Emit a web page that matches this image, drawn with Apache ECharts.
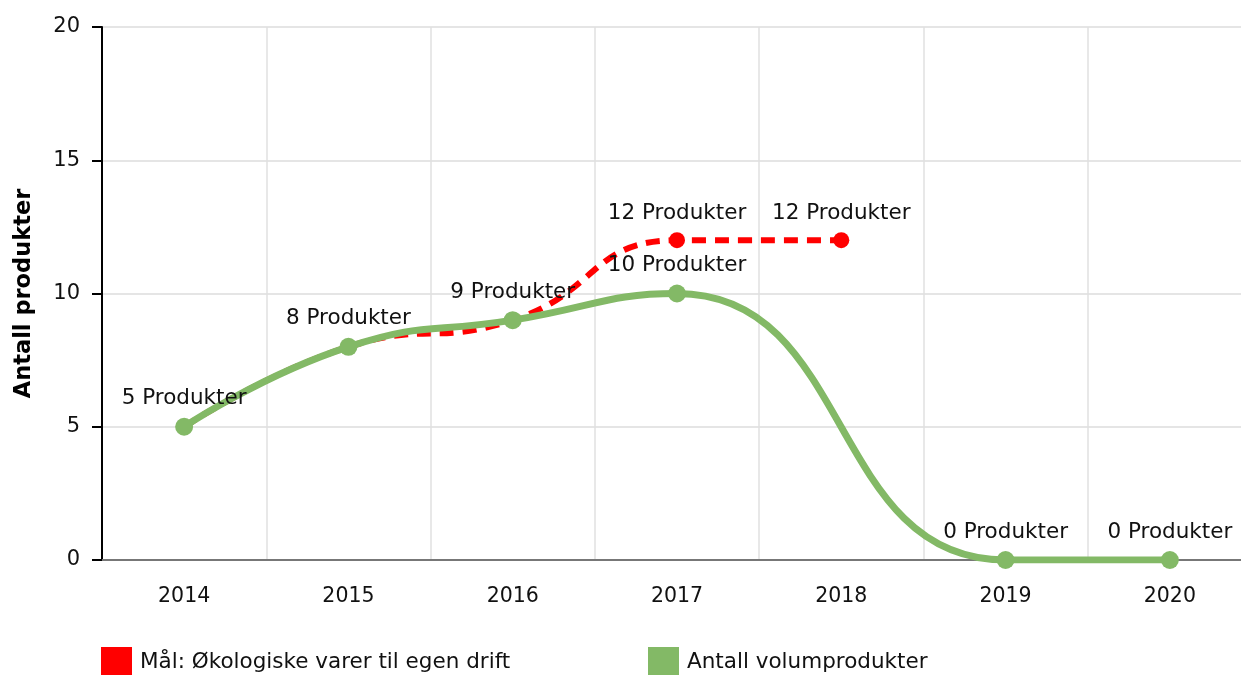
<!DOCTYPE html>
<html><head><meta charset="utf-8">
<script src="https://cdn.jsdelivr.net/npm/echarts@6/dist/echarts.min.js"></script>
<style>html,body{margin:0;padding:0;background:#fff}#c{width:1241px;height:675px}</style>
</head><body><div id="c"></div>
<script>
const years = ['2014','2015','2016','2017','2018','2019','2020'];
const goalValues = [5, 8, 9, 12, 12, null, null];
const volumeValues = [5, 8, 9, 10, null, 0, 0];
const yTicks = [0, 5, 10, 15, 20];
const goalName = 'Mål: Økologiske varer til egen drift';
const volumeName = 'Antall volumprodukter';
const RED = '#ff0000', GREEN = '#83b966';
const FONT = 'DejaVu Sans';

const labelCommon = {
  show: true, position: 'top', distance: 8,
  fontFamily: FONT, fontSize: 21.5, color: '#111',
  formatter: p => p.value + ' Produkter'
};
const goalData = goalValues.map((v, i) => ({
  value: v,
  label: { show: v !== null && v !== volumeValues[i] }
}));

const legendCommon = {
  top: 647, itemWidth: 31, itemHeight: 30, icon: 'rect', itemGap: 0, padding: 0,
  textStyle: { fontFamily: FONT, fontSize: 21.5, color: '#111', padding: [0, 0, 0, 3] }
};

const chart = echarts.init(document.getElementById('c'), null, {renderer: 'canvas'});
chart.setOption({
  animation: false,
  textStyle: { fontFamily: FONT },
  grid: { left: 102, right: -11, top: 27, bottom: 115, containLabel: false, outerBoundsMode: 'none' },
  legend: [
    Object.assign({ left: 101, data: [{ name: goalName, itemStyle: { color: RED } }] }, legendCommon),
    Object.assign({ left: 648, data: [{ name: volumeName, itemStyle: { color: GREEN } }] }, legendCommon)
  ],
  xAxis: {
    type: 'category', data: years, boundaryGap: true,
    axisLine: { lineStyle: { color: '#777', width: 2 } },
    axisTick: { alignWithLabel: true, length: 8, lineStyle: { color: '#999', width: 2 } },
    axisLabel: { fontFamily: FONT, fontSize: 20.5, color: '#111', margin: 26 },
    splitLine: { show: true, lineStyle: { color: '#e0e0e0', width: 1.5 } }
  },
  yAxis: {
    type: 'value', min: yTicks[0], max: yTicks[yTicks.length - 1], interval: 5,
    name: 'Antall produkter', nameLocation: 'middle', nameGap: 66,
    nameTextStyle: { fontFamily: FONT, fontSize: 22.5, fontWeight: 'bold', color: '#000' },
    axisLine: { show: true, lineStyle: { color: '#000', width: 2 } },
    axisTick: { show: true, length: 10, lineStyle: { color: '#000', width: 2 } },
    axisLabel: { fontFamily: FONT, fontSize: 21, color: '#111', margin: 22 },
    splitLine: { show: true, lineStyle: { color: '#dcdcdc', width: 1.5 } }
  },
  series: [
    {
      name: goalName, type: 'line', data: goalData, smooth: 0.5,
      symbol: 'circle', symbolSize: 16, showAllSymbol: true,
      lineStyle: { color: RED, width: 6, type: [14, 9] },
      itemStyle: { color: RED },
      label: labelCommon, z: 2
    },
    {
      name: volumeName, type: 'line', data: volumeValues, smooth: 0.5, connectNulls: true,
      symbol: 'circle', symbolSize: 18, showAllSymbol: true,
      lineStyle: { color: GREEN, width: 7 },
      itemStyle: { color: GREEN },
      label: labelCommon, z: 3
    }
  ]
});
</script></body></html>
